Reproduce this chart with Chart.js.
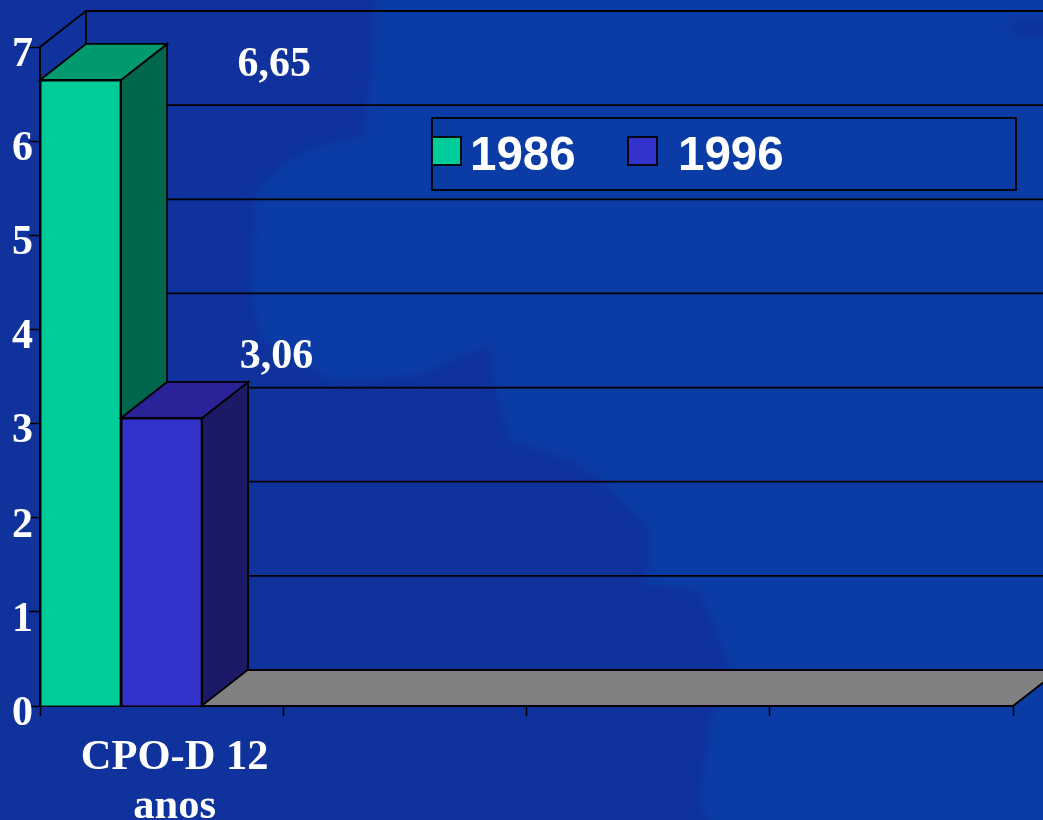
<!DOCTYPE html>
<html>
<head>
<meta charset="utf-8">
<title>CPO-D 12 anos</title>
<script src="https://cdn.jsdelivr.net/npm/chart.js@4"></script>
<style>
    html, body { margin: 0; padding: 0; background: #0f329c; }
    canvas { display: block; }
</style>
</head>
<body>
<canvas id="chart" width="1043" height="820"></canvas>
<script>
const categories = [['CPO-D 12', 'anos'], '', '', ''];
const seriesNames = ['1986', '1996'];
const values1986 = [6.65, null, null, null];
const values1996 = [3.06, null, null, null];
const emptySlot = [null, null, null, null];   // keeps the third bar slot free, bars sit left in the group
const yMax = 7;

const frontColors = ['#00cc99', '#3333cc'];
const topColors = ['#009970', '#2a2299'];
const sideColors = ['#00664c', '#1a1a66'];

// 3d depth of the old office chart
const depthX = 46;
const depthY = 36;

const serif = '"Liberation Serif", "Times New Roman", serif';

// outline of the faint map behind the chart, runs past the edges so the blur stays clean
const mapOutline = [
    [376, -40], [372, 60], [365, 135], [340, 140], [310, 150], [290, 160], [255, 190], [255, 230],
    [250, 290], [262, 340], [335, 382], [420, 375], [490, 345], [497, 400], [510, 440], [570, 460],
    [600, 480], [650, 530], [650, 570], [640, 582], [700, 592], [720, 640], [730, 670], [710, 720],
    [700, 800], [720, 860], [1100, 860], [1100, 36], [1010, 34], [1010, 20], [1100, 20], [1100, -40]
];

function poly(ctx, pts, fill) {
    ctx.beginPath();
    pts.forEach((p, i) => (i ? ctx.lineTo(p[0], p[1]) : ctx.moveTo(p[0], p[1])));
    ctx.closePath();
    if (fill) {
        ctx.fillStyle = fill;
        ctx.fill();
    }
    ctx.strokeStyle = '#000';
    ctx.lineWidth = 1.8;
    ctx.stroke();
}

function line(ctx, x1, y1, x2, y2) {
    ctx.beginPath();
    ctx.moveTo(x1, y1);
    ctx.lineTo(x2, y2);
    ctx.strokeStyle = '#000';
    ctx.lineWidth = 1.8;
    ctx.stroke();
}

function drawFaces(chart, index) {
    const ctx = chart.ctx;
    const values = chart.data.datasets[index].data;
    chart.getDatasetMeta(index).data.forEach((el, i) => {
        if (values[i] === null) return;
        const l = el.x - el.width / 2;
        const r = el.x + el.width / 2;
        poly(ctx, [[r, el.y], [r + depthX, el.y - depthY], [r + depthX, el.base - depthY], [r, el.base]], sideColors[index]);
        poly(ctx, [[l, el.y], [l + depthX, el.y - depthY], [r + depthX, el.y - depthY], [r, el.y]], topColors[index]);
    });
}

const threeD = {
    id: 'threeD',
    beforeDraw(chart) {
        const ctx = chart.ctx;
        const x = chart.scales.x;
        const y = chart.scales.y;
        const left = x.left;
        const right = x.right;
        const bottom = y.getPixelForValue(0);

        ctx.save();
        ctx.fillStyle = '#0f329c';
        ctx.fillRect(0, 0, chart.width, chart.height);
        ctx.filter = 'blur(5px)';
        ctx.beginPath();
        mapOutline.forEach((p, i) => (i ? ctx.lineTo(p[0], p[1]) : ctx.moveTo(p[0], p[1])));
        ctx.closePath();
        ctx.fillStyle = '#0b3ca5';
        ctx.fill();
        ctx.filter = 'none';

        // back wall and left wall
        y.ticks.forEach(t => {
            const py = y.getPixelForValue(t.value);
            if (t.value > 0) {
                line(ctx, left + depthX, py - depthY, right + depthX, py - depthY);
            }
            line(ctx, left, py, left + depthX, py - depthY);
        });
        line(ctx, left + depthX, y.getPixelForValue(yMax) - depthY, left + depthX, bottom - depthY);

        // floor
        poly(ctx, [[left, bottom], [left + depthX, bottom - depthY], [right + depthX, bottom - depthY], [right, bottom]], '#808080');
        ctx.restore();
    },
    beforeDatasetsDraw(chart) {
        drawFaces(chart, 0);
    },
    afterDatasetsDraw(chart) {
        drawFaces(chart, 1);
    },
    afterDraw(chart) {
        const ctx = chart.ctx;
        ctx.save();
        ctx.fillStyle = '#fff';
        ctx.textAlign = 'left';
        ctx.textBaseline = 'alphabetic';

        // value labels
        ctx.font = 'bold 42px ' + serif;
        const shifts = [[157, -4], [78, -50]];
        [0, 1].forEach(i => {
            const el = chart.getDatasetMeta(i).data[0];
            const value = chart.data.datasets[i].data[0];
            ctx.fillText(value.toFixed(2).replace('.', ','), el.x + shifts[i][0], el.y + shifts[i][1]);
        });

        // legend
        ctx.strokeStyle = '#000';
        ctx.lineWidth = 1.8;
        ctx.strokeRect(432, 118, 584, 72);
        ctx.font = 'bold 47.5px "Liberation Sans", Arial, sans-serif';
        const swatchX = [432, 628];
        const textX = [470, 678];
        seriesNames.forEach((name, i) => {
            ctx.fillStyle = frontColors[i];
            ctx.fillRect(swatchX[i], 137, 29, 28);
            ctx.strokeRect(swatchX[i], 137, 29, 28);
            ctx.fillStyle = '#fff';
            ctx.fillText(name, textX[i], 170);
        });
        ctx.restore();
    }
};

new Chart(document.getElementById('chart'), {
    type: 'bar',
    data: {
        labels: categories,
        datasets: [
            { label: seriesNames[0], data: values1986, backgroundColor: frontColors[0] },
            { label: seriesNames[1], data: values1996, backgroundColor: frontColors[1] },
            { label: '', data: emptySlot }
        ]
    },
    options: {
        responsive: false,
        animation: false,
        layout: { padding: { top: 47, right: 30, left: 0, bottom: 0 } },
        datasets: {
            bar: {
                categoryPercentage: 1,
                barPercentage: 1,
                borderColor: '#000',
                borderWidth: 1.8
            }
        },
        plugins: {
            legend: { display: false },
            tooltip: { enabled: false }
        },
        scales: {
            x: {
                afterFit: s => { s.height = 114; },
                border: { color: '#000', width: 2 },
                grid: { drawOnChartArea: false, tickColor: '#000', tickLength: 10, tickWidth: 1.5 },
                ticks: {
                    autoSkip: false,
                    maxRotation: 0,
                    minRotation: 0,
                    labelOffset: 13,
                    padding: 17,
                    color: '#fff',
                    font: { family: serif, size: 42.5, weight: 'bold', lineHeight: 1.16 }
                }
            },
            y: {
                min: 0,
                max: yMax,
                afterFit: s => { s.width = 40; },
                border: { color: '#000', width: 2 },
                grid: { drawOnChartArea: false, tickColor: '#000', tickLength: 11, tickWidth: 1.5 },
                ticks: {
                    stepSize: 1,
                    padding: -4,
                    labelOffset: 8,
                    color: '#fff',
                    font: { family: serif, size: 42, weight: 'bold' }
                }
            }
        }
    },
    plugins: [threeD]
});
</script>
</body>
</html>
